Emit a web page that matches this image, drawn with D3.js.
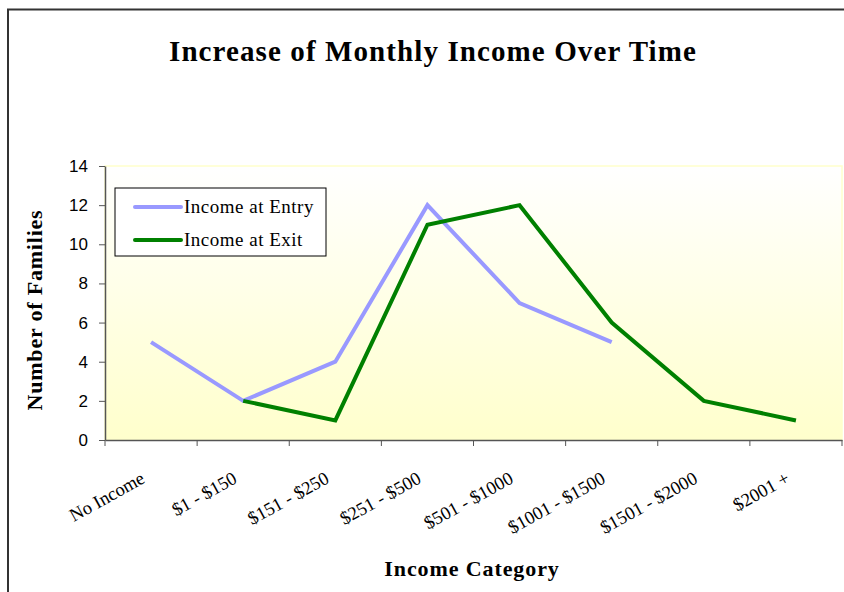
<!DOCTYPE html>
<html><head><meta charset="utf-8">
<script src="https://cdn.jsdelivr.net/npm/d3@7"></script>
<style>body{margin:0;background:#fff}svg{display:block}</style>
</head><body><svg id="c" width="844" height="592"></svg>
<script>
const categories = ["No Income","$1 - $150","$151 - $250","$251 - $500","$501 - $1000","$1001 - $1500","$1501 - $2000","$2001 +"];
const entryValues = [5, 2, 4, 12, 7, 5, null, null];
const exitValues = [null, 2, 1, 11, 12, 6, 2, 1];
const yTicks = [0, 2, 4, 6, 8, 10, 12, 14];
const seriesNames = ["Income at Entry", "Income at Exit"];
const seriesColors = ["#9999FF", "#008000"];

const svg = d3.select("#c");
const serif = "'Liberation Serif','DejaVu Serif',serif";
const sans = "'Liberation Sans',Arial,sans-serif";

// outer frame
svg.append("rect").attr("x", 8).attr("y", 9.5).attr("width", 860).attr("height", 620)
  .attr("fill", "#fff").attr("stroke", "#333").attr("stroke-width", 2);

const L = 105, R = 842, T = 166, B = 440;
const x = d3.scaleBand().domain(categories).range([L, R]);
const y = d3.scaleLinear().domain([0, 14]).range([B, T]);

const defs = svg.append("defs");
const g = defs.append("linearGradient").attr("id", "bg").attr("x1", 0).attr("y1", 0).attr("x2", 0).attr("y2", 1);
g.append("stop").attr("offset", "0%").attr("stop-color", "#ffffff");
g.append("stop").attr("offset", "100%").attr("stop-color", "#ffffcc");
svg.append("rect").attr("x", L).attr("y", T).attr("width", R - L).attr("height", B - T)
  .attr("fill", "url(#bg)").attr("stroke", "#ffffcc").attr("stroke-width", 1.5);

// axes
const ya = svg.append("g").attr("transform", `translate(${L},0)`)
  .call(d3.axisLeft(y).tickValues(yTicks).tickSize(6).tickSizeOuter(0));
ya.attr("font-size", null);
ya.select(".domain").attr("stroke", "#555").attr("stroke-width", 1.5);
ya.selectAll(".tick line").attr("stroke", "#555");
ya.selectAll("text").style("font-family", sans).style("font-size", "17px")
  .attr("fill", "#000").attr("x", -17);

const xa = svg.append("g").attr("transform", `translate(0,${B})`)
  .call(d3.axisBottom(x).tickSize(0).tickFormat(""));
xa.select(".domain").attr("stroke", "#555").attr("stroke-width", 1.5);
const bounds = categories.map(c => x(c)).concat([R]);
svg.append("g").selectAll("line").data(bounds).join("line")
  .attr("x1", d => d).attr("x2", d => d).attr("y1", B).attr("y2", B + 6)
  .attr("stroke", "#555").attr("stroke-width", 1);

// x tick labels
svg.append("g").selectAll("text").data(categories).join("text")
  .attr("transform", d => `translate(${x(d) + x.bandwidth() / 2 - 5},${B + 42}) rotate(-29)`)
  .attr("text-anchor", "end")
  .style("font-family", serif).style("font-size", "18.5px").attr("fill", "#000")
  .text(d => d);

// lines
const line = d3.line()
  .defined(d => d.v !== null)
  .x(d => x(d.c) + x.bandwidth() / 2)
  .y(d => y(d.v));
[entryValues, exitValues].forEach((vals, i) => {
  svg.append("path")
    .datum(categories.map((c, j) => ({c, v: vals[j]})))
    .attr("d", line).attr("fill", "none")
    .attr("stroke", seriesColors[i]).attr("stroke-width", 4)
    .attr("stroke-linejoin", "miter");
});

// legend
const lg = svg.append("g").attr("transform", "translate(115,188)");
lg.append("rect").attr("x", 0).attr("y", 0).attr("width", 211).attr("height", 68)
  .attr("fill", "#fff").attr("stroke", "#000").attr("stroke-width", 1);
seriesNames.forEach((n, i) => {
  const yy = 19 + i * 33;
  lg.append("line").attr("x1", 20).attr("x2", 66).attr("y1", yy).attr("y2", yy)
    .attr("stroke", seriesColors[i]).attr("stroke-width", 4).attr("stroke-linecap", "round");
  lg.append("text").attr("x", 69).attr("y", yy + 6)
    .style("font-family", serif).style("font-size", "19px").style("letter-spacing", "0.5px")
    .attr("fill", "#000").text(n);
});

// titles
svg.append("text").attr("x", 433).attr("y", 61).attr("text-anchor", "middle")
  .style("font-family", serif).style("font-weight", "bold").style("font-size", "29px")
  .style("letter-spacing", "1.1px").attr("fill", "#000").text("Increase of Monthly Income Over Time");
svg.append("text").attr("x", 472).attr("y", 576).attr("text-anchor", "middle")
  .style("font-family", serif).style("font-weight", "bold").style("font-size", "22px")
  .style("letter-spacing", "0.9px").attr("fill", "#000").text("Income Category");
svg.append("text").attr("transform", "translate(42,310) rotate(-90)").attr("text-anchor", "middle")
  .style("font-family", serif).style("font-weight", "bold").style("font-size", "22px")
  .style("letter-spacing", "0.8px").attr("fill", "#000").text("Number of Families");
</script></body></html>
